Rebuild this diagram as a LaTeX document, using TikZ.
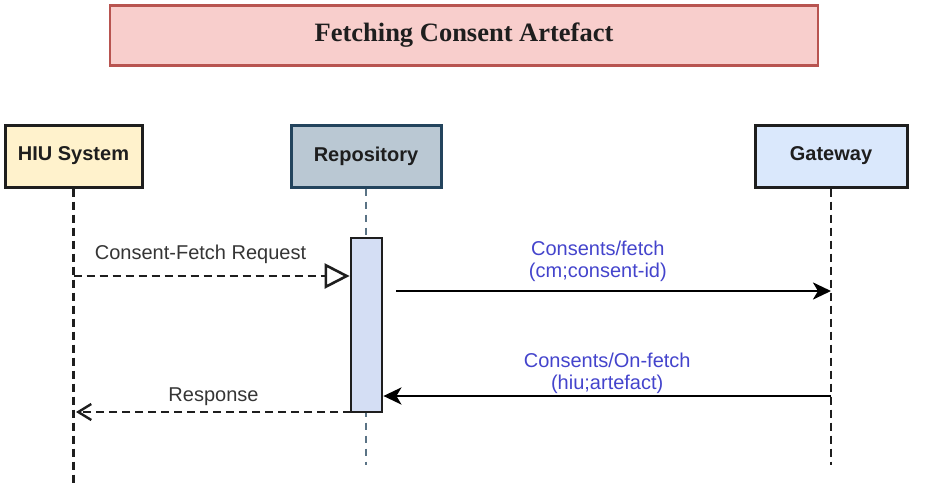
\documentclass[tikz,border=0pt]{standalone}
\usepackage{fontspec}
\setmainfont{Liberation Sans}
\newfontfamily\titlefont{Liberation Serif}
\usetikzlibrary{arrows.meta,calc}
\definecolor{titlefill}{HTML}{F8CECC}
\definecolor{titledraw}{HTML}{B85450}
\definecolor{hiufill}{HTML}{FFF2CC}
\definecolor{repofill}{HTML}{BAC8D3}
\definecolor{repodraw}{HTML}{23445D}
\definecolor{gwfill}{HTML}{DAE8FC}
\definecolor{actfill}{HTML}{D4DEF4}
\definecolor{lblblue}{HTML}{4444CC}
\definecolor{ink}{HTML}{1E1E1E}
\tikzset{
  titlebox/.style={draw=titledraw, fill=titlefill, line width=2.2pt, minimum width=708pt, minimum height=60pt, inner sep=0pt, font=\titlefont\bfseries\fontsize{26.5}{28}\selectfont, text=ink},
  actor/.style={line width=3pt, minimum height=62pt, inner sep=0pt, font=\bfseries\fontsize{20}{22}\selectfont, text=ink},
  lifeline/.style={draw=ink, line width=2.8pt, dash pattern=on 8pt off 5pt},
  repoline/.style={draw=repodraw!75, line width=2.2pt, dash pattern=on 7pt off 6pt},
  activation/.style={draw=ink, fill=actfill, line width=2.8pt, minimum width=31pt, minimum height=174pt, inner sep=0pt, outer sep=0pt},
  dmsg/.style={draw=ink, line width=2.8pt, dash pattern=on 8pt off 5pt},
  smsg/.style={draw=black, line width=2.8pt, -{Stealth[length=18pt,width=17pt,inset=5pt]}},
  lbl/.style={font=\fontsize{20}{22}\selectfont, inner sep=0pt, anchor=south, align=center},
}
\begin{document}
\begin{tikzpicture}[x=1pt,y=-1pt]
\useasboundingbox (0,0) rectangle (934,493);
\node[titlebox] (title) at (464,35.5) {Fetching Consent Artefact};
\node[actor, draw=ink, fill=hiufill, minimum width=137pt] (hiu) at (73.5,156) {HIU System};
\node[actor, draw=repodraw, fill=repofill, minimum width=150pt] (repo) at (366,156) {Repository};
\node[actor, draw=ink, fill=gwfill, minimum width=152pt] (gw) at (831,156) {Gateway};
\coordinate (hiuend) at (73.5,487);
\coordinate (repoend) at (366,465);
\coordinate (gwend) at (831,465);
\draw[lifeline] (hiu.south) -- (hiuend);
\draw[repoline] (repo.south) -- (repoend);
\draw[lifeline] (gw.south) -- (gwend);
\node[activation] (act) at (366.5,325) {};
% messages
\coordinate (m1s) at (73.5,276);
\draw[dmsg, -{Triangle[open,length=25pt,width=25pt,line width=2.6pt]}] (m1s) -- node[lbl, pos=0.46, yshift=11pt, text=ink!90] {Consent-Fetch Request} ([xshift=-1.4pt]act.west |- m1s);
\coordinate (m2s) at (396,291);
\draw[smsg] (m2s) -- node[lbl, pos=0.464, yshift=8pt, text=lblblue] {Consents/fetch\\(cm;consent-id)} (gw.south |- m2s);
\coordinate (m3s) at (831,396);
\draw[smsg] (m3s) -- node[lbl, pos=0.5, yshift=1pt, text=lblblue] {Consents/On-fetch\\(hiu;artefact)} ([xshift=1.4pt]act.east |- m3s);
\coordinate (m4e) at (76,412);
\draw[dmsg, -{Straight Barb[length=13pt,width=16pt,line width=2.4pt]}] (act.south west) -- node[lbl, pos=0.5, yshift=5pt, text=ink!90] {Response} (m4e);
\end{tikzpicture}
\end{document}
